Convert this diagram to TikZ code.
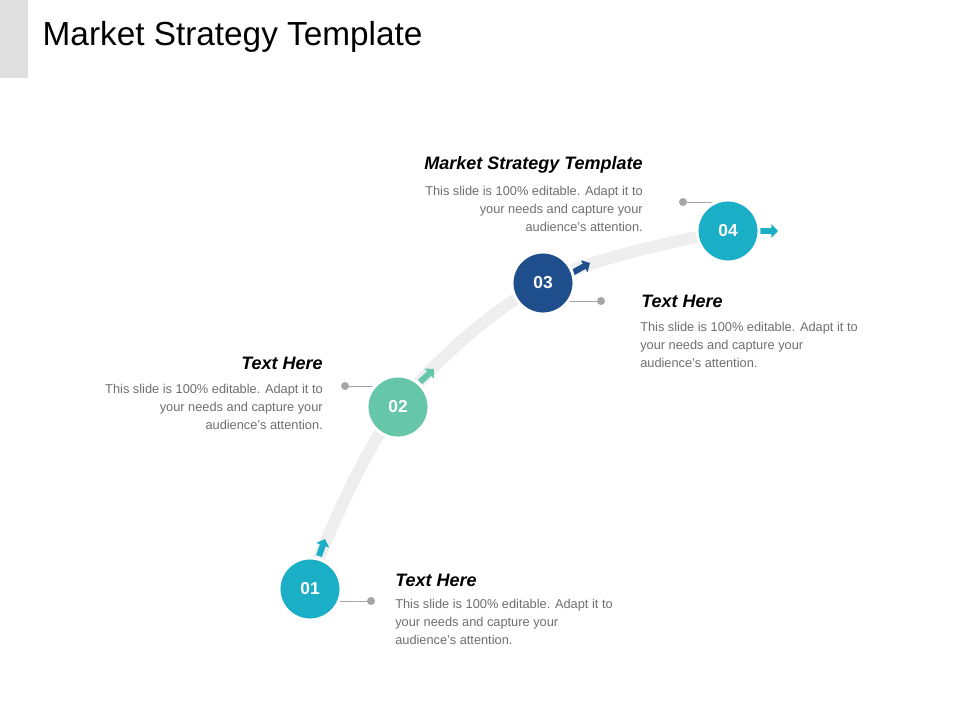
\documentclass[tikz,border=0pt]{standalone}
\usepackage{fontspec}
\setmainfont{Liberation Sans}
\usetikzlibrary{arrows.meta,shadows}
\definecolor{teal1}{HTML}{1AAFC6}
\definecolor{mint}{HTML}{66C6A8}
\definecolor{navy}{HTML}{1F4E8C}
\definecolor{textgray}{HTML}{6E6E6E}
\definecolor{track}{HTML}{EEEEEE}
\definecolor{dotgray}{HTML}{A6A6A6}
\begin{document}
\begin{tikzpicture}[x=0.75pt,y=-0.75pt,
  step node/.style={circle,draw=white,line width=2.2pt,minimum size=62pt*0.75/0.75*0.75,
    inner sep=0pt,font=\fontsize{13}{13}\selectfont\bfseries,text=white,
    drop shadow={shadow xshift=0.6pt,shadow yshift=-0.6pt,opacity=0.3}},
  dot/.style={circle,fill=dotgray,inner sep=0pt,minimum size=6pt},
  head/.style={font=\fontsize{13.5}{14}\selectfont\bfseries\itshape,inner sep=0pt},
  body/.style={font=\fontsize{9.6}{13.5}\selectfont,text=textgray,inner sep=0pt},
  pointer/.style={line width=4.5pt,-{Triangle[length=5pt,width=10pt]}}]
\useasboundingbox (0,0) rectangle (960,720);
\fill[gray!25] (0,0) rectangle (28,78);
\node[anchor=west,font=\fontsize{25}{25}\selectfont] (title) at (38,37) {Market Strategy Template};
% track
\draw[track,line width=9pt,line cap=round] plot[smooth,tension=0.6] coordinates {(318,560) (398,407) (543,283) (728,231)};
% connectors
\node[dot] (d1) at (371,601) {};
\node[dot] (d2) at (345,386) {};
\node[dot] (d3) at (601,301) {};
\node[dot] (d4) at (683,202) {};
\draw[dotgray,line width=0.6pt] (d1) -- (310,601);
\draw[dotgray,line width=0.6pt] (d2) -- (398,386);
\draw[dotgray,line width=0.6pt] (d3) -- (543,301);
\draw[dotgray,line width=0.6pt] (d4) -- (728,202);
% pointers
\draw[pointer,teal1] (319,556) -- (325,539);
\draw[pointer,mint] (420,382) -- (434,369);
\draw[pointer,navy] (572,273) -- (590,263);
\draw[pointer,teal1] (760,231) -- (778,231);
% steps
\node[step node,fill=teal1] (s1) at (310,589) {01};
\node[step node,fill=mint] (s2) at (398,407) {02};
\node[step node,fill=navy] (s3) at (543,283) {03};
\node[step node,fill=teal1] (s4) at (728,231) {04};
% texts
\node[head,anchor=west] (h1) at (395,580) {Text Here};
\node[body,anchor=north west,align=left] (b1) at (395,599) {This slide is 100\% editable. Adapt it to\\your needs and capture your\\audience's attention.};
\node[head,anchor=east] (h2) at (323,363) {Text Here};
\node[body,anchor=north east,align=right] (b2) at (323,384) {This slide is 100\% editable. Adapt it to\\your needs and capture your\\audience's attention.};
\node[head,anchor=west] (h3) at (641,301) {Text Here};
\node[body,anchor=north west,align=left] (b3) at (640,322) {This slide is 100\% editable. Adapt it to\\your needs and capture your\\audience's attention.};
\node[head,anchor=east] (h4) at (643,165) {Market Strategy Template};
\node[body,anchor=north east,align=right] (b4) at (643,186) {This slide is 100\% editable. Adapt it to\\your needs and capture your\\audience's attention.};
\end{tikzpicture}
\end{document}
